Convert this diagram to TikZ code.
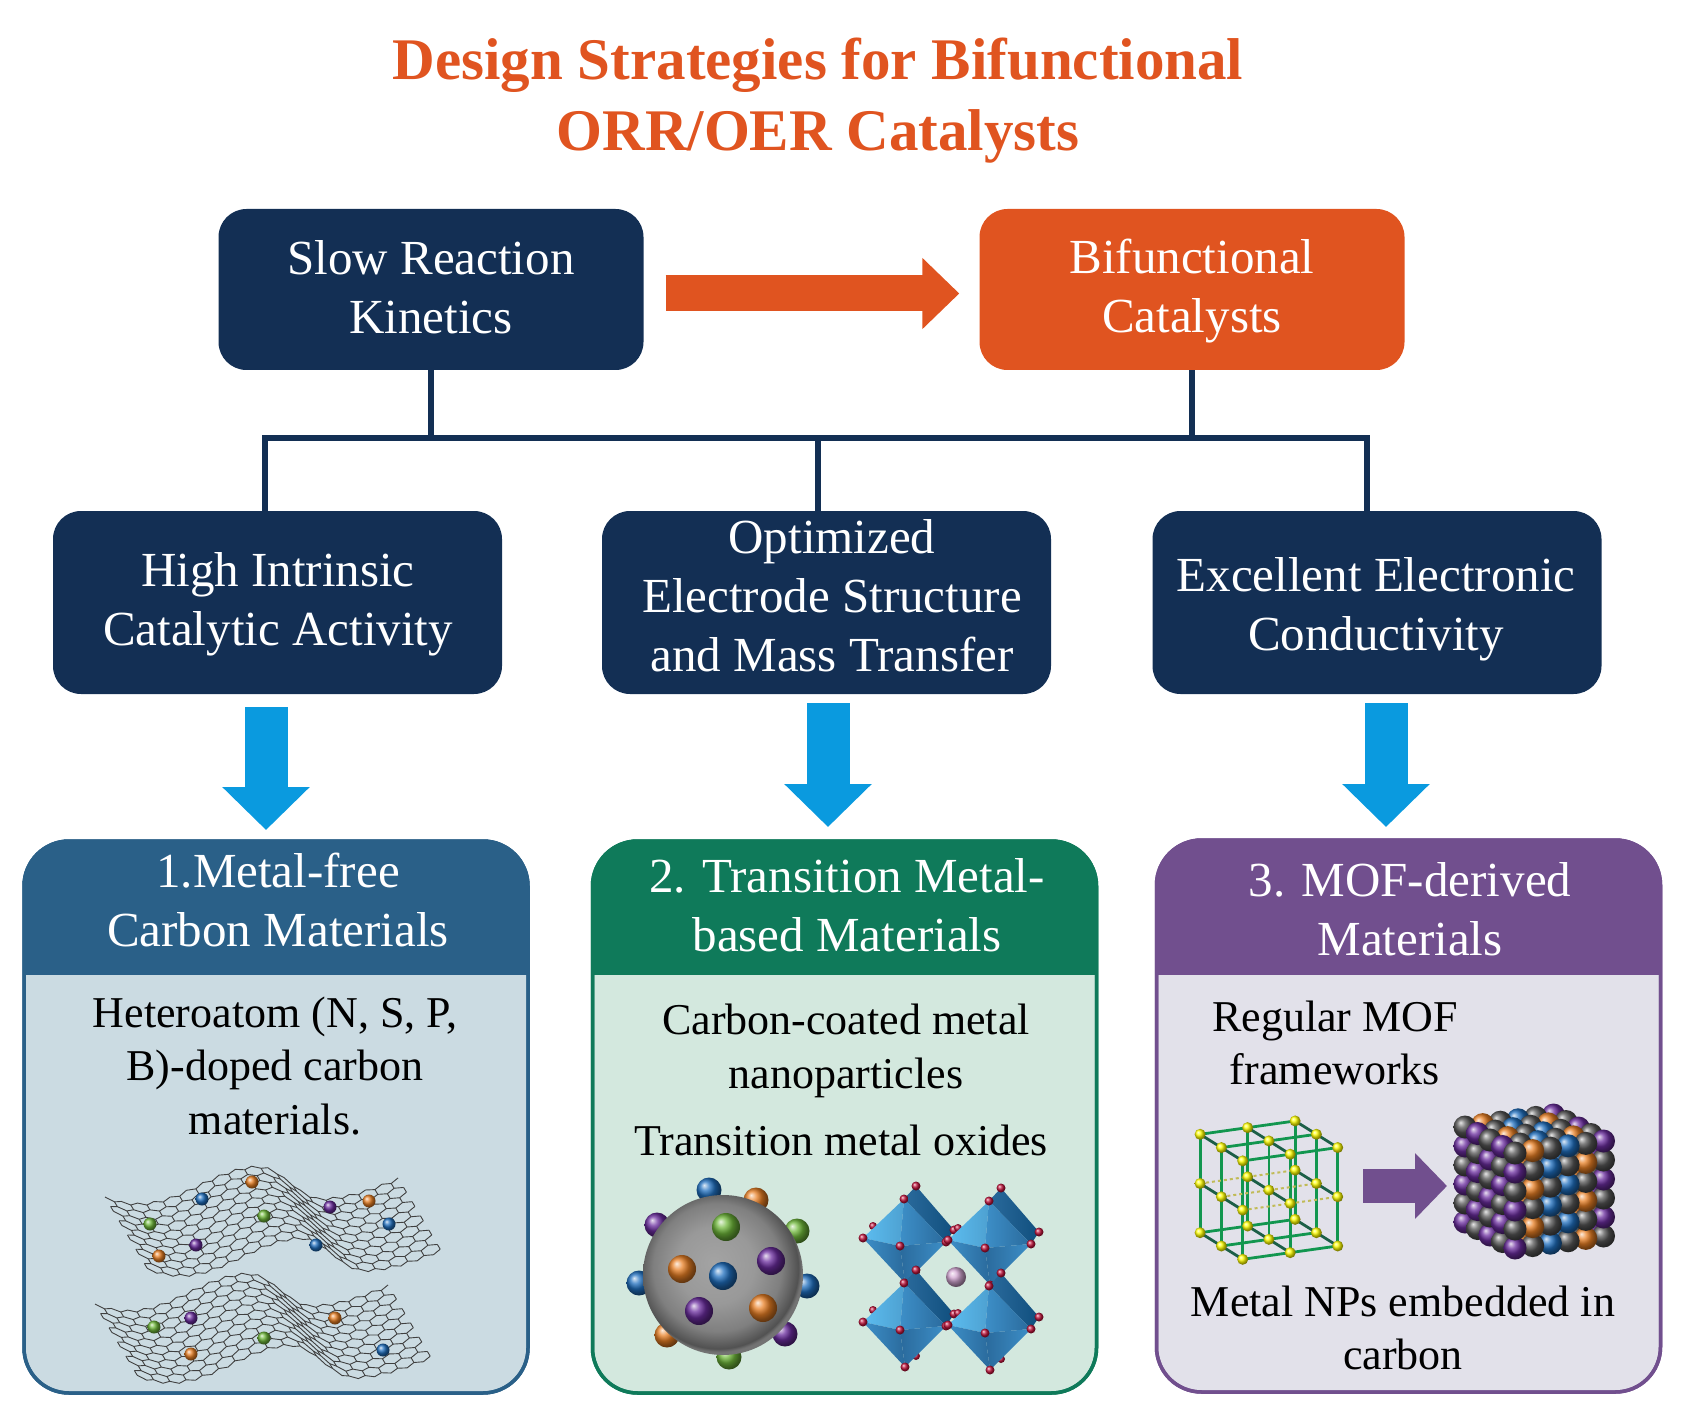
\documentclass[tikz,border=0pt]{standalone}
\usepackage{fontspec}
\setmainfont{Liberation Serif}
\usetikzlibrary{arrows.meta}
\definecolor{navy}{HTML}{132F54}
\definecolor{flame}{HTML}{E05420}
\definecolor{sky}{HTML}{0A9ADF}
\definecolor{headblue}{HTML}{2A6088}
\definecolor{bodyblue}{HTML}{CBDBE2}
\definecolor{headgreen}{HTML}{0F7A5A}
\definecolor{bodygreen}{HTML}{D3E8DE}
\definecolor{headpurple}{HTML}{714F8E}
\definecolor{bodypurple}{HTML}{E2E1EA}
\definecolor{dotorange}{HTML}{E87F24}
\definecolor{dotblue}{HTML}{1F6FBF}
\definecolor{dotgreen}{HTML}{6FB83A}
\definecolor{dotpurple}{HTML}{6A2C9E}
\definecolor{dotgray}{HTML}{565656}
\definecolor{oxred}{HTML}{C0143C}
\definecolor{facelight}{HTML}{5CBDF0}
\definecolor{facemid}{HTML}{3D8FC8}
\definecolor{facedark}{HTML}{2A6A9C}
\definecolor{cagegreen}{HTML}{12964F}
\definecolor{cageteal}{HTML}{1C5F47}
\pgfdeclareradialshading{coresphere}{\pgfpoint{-3bp}{4bp}}{%
  color(0bp)=(black!36); color(12bp)=(black!40); color(20bp)=(black!50);
  color(25bp)=(black!68); color(26bp)=(black!55); color(50bp)=(black!55)}
% one ball of the drawings
\newcommand\ballat[4][6.5pt]{\shade[ball color=#4] (#2,#3) circle (#1);}
% wavy honeycomb sheet
\newcommand\hexsheet[2]{%
  \begin{scope}[shift={(#1,#2)}]
    \foreach \j in {0,...,10}
      \draw[hexline] plot[samples at={0,...,36},variable=\i] ({sx(\i,\j)},{sy(\i,\j)});
    \foreach \j in {0,...,9}
      \foreach \i in {0,...,36}{
        \ifodd\numexpr\i+\j\relax
          \draw[hexline] ({sx(\i,\j)},{sy(\i,\j)}) -- ({sx(\i,\j+1)},{sy(\i,\j+1)});
        \fi}
  \end{scope}}
% one octahedron with its back edge
\newcommand\octa[2]{%
  \begin{scope}[shift={(#1,#2)}]
    \coordinate (vt) at (0,0);
    \coordinate (vl) at (-41,39);
    \coordinate (vr) at (42,43);
    \coordinate (vf) at (-4,47);
    \coordinate (vb) at (1,84);
    \coordinate (bt) at (12,-13);
    \coordinate (br) at (50,31);
    \ballat[4pt]{12}{73}{oxred}
    \ballat[4pt]{-31}{27}{oxred}
    \shade[left color=facedark,right color=navy!70!sky] (vt) -- (bt) -- (br) -- (vr) -- cycle;
    \shade[left color=facelight,right color=facelight!80!navy] (vt) -- (vl) -- (vf) -- cycle;
    \shade[left color=facemid,right color=facedark] (vt) -- (vf) -- (vr) -- cycle;
    \shade[left color=facemid,right color=facedark] (vl) -- (vf) -- (vb) -- cycle;
    \shade[left color=facedark,right color=facemid] (vf) -- (vr) -- (vb) -- cycle;
    \foreach \p/\q in {0/0,-41/39,42/43,-4/47,1/84,12/-13,50/31}{
      \ballat[4.5pt]{\p}{\q}{oxred}}
  \end{scope}}

\begin{document}
\begin{tikzpicture}
[x=1pt,y=-1pt,
  boxtext/.style={text=white,align=center,font=\fontsize{49}{59}\selectfont},
  bodytext/.style={text=black,align=center,font=\fontsize{44}{53.5}\selectfont},
  title/.style={text=flame,align=center,font=\fontsize{59}{71}\selectfont\bfseries},
  navybox/.style={fill=navy,rounded corners=28pt,minimum width=449pt,minimum height=183pt},
  panel/.style={line width=3.5pt,outer sep=0pt,rounded corners=45pt,minimum width=504pt,minimum height=552pt},
  busline/.style={draw=navy,line width=5.5pt},
  fatorange/.style={draw=flame,line width=36pt,-{Triangle[length=37pt,width=69pt]}},
  fatblue/.style={draw=sky,line width=43pt,-{Triangle[length=43pt,width=85pt]}},
  fatpurple/.style={draw=headpurple,line width=34pt,-{Triangle[length=32pt,width=64pt]}},
  hexline/.style={draw=black!75,line width=0.9pt},
  latfront/.style={draw=cagegreen,line width=2.8pt},
  latside/.style={draw=cageteal,line width=2.8pt},
  latmid/.style={draw=olive!55!white,line width=2pt,dashed},
  declare function={
    wavey(\u)=17*cos(ifthenelse(\u<0.52,180*(\u-0.12)/0.4,
      ifthenelse(\u<0.74,180+180*(\u-0.52)/0.22,360+180*(\u-0.74)/0.5)));
    sv(\p,\q)=(1.5*\q+0.5*mod(\p+\q,2))/16;
    sx(\p,\q)=293*\p/36+45*sv(\p,\q);
    sy(\p,\q)=-8*\p/36+76*sv(\p,\q)+wavey(\p/36);}]
\useasboundingbox (0,0) rectangle (1690,1420);
\node[title] (head) at (818,101) {Design Strategies for Bifunctional\\ORR/OER Catalysts};

\node[navybox,minimum width=425pt,minimum height=161pt] (slow) at (431,289.5) {};
\node[navybox,fill=flame,minimum width=425pt,minimum height=161pt] (bifunc) at (1192,289.5) {};
\node[navybox] (high) at (277.5,602.5) {};
\node[navybox] (optim) at (826.5,602.5) {};
\node[navybox] (elec) at (1377,602.5) {};
\node[boxtext] at (431,287) {Slow Reaction\\Kinetics};
\node[boxtext] at (1192,291) {Bifunctional\\Catalysts};
\node[boxtext] at (278,604) {High Intrinsic\\Catalytic Activity};
\node[boxtext] at (832,596) {Optimized\\Electrode Structure\\and Mass Transfer};
\node[boxtext] at (1376,609) {Excellent Electronic\\Conductivity};

\coordinate (bus) at (818,438);
\draw[busline] (slow.south) -- (slow.south |- bus);
\draw[busline] (bifunc.south) -- (bifunc.south |- bus);
\draw[busline] ([xshift=-12.5pt]high.north) |- (bus) -| ([xshift=-10pt]elec.north);
\draw[busline] (bus) -- ([xshift=-8.5pt]optim.north);
\draw[fatorange,shorten <=22pt,shorten >=20pt] ([yshift=-4pt]slow.east) -- ([yshift=-4pt]bifunc.west);

% three material panels
\foreach \name/\cx/\cy/\hc/\bc/\hy in {matfree/276/1117/headblue/bodyblue/975,
    trans/844.5/1117/headgreen/bodygreen/975,mof/1408.5/1116/headpurple/bodypurple/975}{
  \node[panel,draw=\hc,fill=\bc] (\name) at (\cx,\cy) {};
  \begin{scope}
    \clip[rounded corners=45pt] (\name.south west) rectangle (\name.north east);
    \fill[\hc] (\name.north west) rectangle (\name.east |- 0,\hy);
  \end{scope}
  \draw[draw=\hc,line width=3.5pt,rounded corners=45pt] (\name.south west) rectangle (\name.north east);
}
\draw[fatblue,shorten <=13pt,shorten >=11pt] ([xshift=-11.5pt]high.south) -- ([xshift=-10pt]matfree.north);
\draw[fatblue,shorten <=9pt,shorten >=14pt] ([xshift=1.5pt]optim.south) -- ([xshift=-16.5pt]trans.north);
\draw[fatblue,shorten <=9pt,shorten >=13pt] ([xshift=9pt]elec.south) -- ([xshift=-22.5pt]mof.north);

\node[boxtext] (mfhead) at (278,900) {1.Metal-free\\Carbon Materials};
\node[boxtext] (tmhead) at (847,905) {2. Transition Metal-\\based Materials};
\node[boxtext] (mofhead) at (1410,909) {3. MOF-derived\\Materials};

\node[bodytext] (mftext) at (275,1066) {Heteroatom (N, S, P,\\B)-doped carbon\\materials.};
\node[bodytext] (tmtext) at (846,1051) {Carbon-coated metal\\nanoparticles};
\node[bodytext] (tmoxide) at (841,1140) {Transition metal oxides};
\node[bodytext] (moftext) at (1335,1043) {Regular MOF\\frameworks};
\node[bodytext] (npstext) at (1403,1328) {Metal NPs embedded in\\carbon};

% doped carbon sheets
\hexsheet{105}{1187}
\hexsheet{95}{1294}
\foreach \p/\q/\c in {252/1182/dotorange,202/1199/dotblue,150/1224/dotgreen,264/1216/dotgreen,
    330/1207/dotpurple,369/1201/dotorange,389/1224/dotblue,196/1245/dotpurple,159/1256/dotorange,
    316/1245/dotblue,154/1327/dotgreen,191/1318/dotpurple,335/1318/dotorange,264/1338/dotgreen,
    191/1354/dotorange,383/1350/dotblue}{
  \ballat{\p}{\q}{\c}}

% coated nanoparticle
\foreach \p/\q/\c in {709/1190/dotblue,756/1200/dotorange,657/1225/dotpurple,797/1231/dotgreen,
    639/1283/dotblue,807/1286/dotblue,667/1335/dotorange,785/1334/dotpurple,729/1357/dotgreen}{
  \ballat[12.5pt]{\p}{\q}{\c}}
\shade[shading=coresphere] (723,1275) circle (80pt);
\foreach \p/\q/\c in {726/1227/dotgreen,682/1269/dotorange,723/1276/dotblue,771/1261/dotpurple,
    699/1311/dotpurple,763/1308/dotorange}{
  \ballat[14pt]{\p}{\q}{\c}}

% oxide octahedra
\octa{904}{1199}
\octa{989}{1201}
\octa{904}{1283}
\octa{989}{1286}
\ballat[10pt]{956}{1277}{violet!35!white}

% cage lattice
\begin{scope}[shift={(1242.7,1259.3)},x={(47.5pt,6.67pt)},y={(-21.3pt,13.3pt)},z={(0pt,49.2pt)}]
  \foreach \i in {0,1,2}
    \foreach \j in {0,1,2}{
      \draw[latfront] (\i,\j,0) -- (\i,\j,2);
    }
  \foreach \k in {0,2}
    \foreach \s in {0,1,2}{
      \draw[latfront] (0,\s,\k) -- (2,\s,\k);
      \draw[latside] (\s,0,\k) -- (\s,2,\k);
    }
  \foreach \s in {0,1,2}{
    \draw[latmid] (0,\s,1) -- (2,\s,1);
    \draw[latside] (\s,0,1) -- (\s,2,1);
  }
  \foreach \i in {0,1,2}
    \foreach \j in {0,1,2}
      \foreach \k in {0,1,2}
        \shade[ball color=yellow] (\i,\j,\k) circle (5.5pt);
\end{scope}
\coordinate (latout) at (1363,1186);
\coordinate (cubein) at (1447,1186);
\draw[fatpurple] (latout) -- (cubein);

% ball cluster
\begin{scope}[shift={(1515,1248)},x={(17.7pt,2.4pt)},y={(-12.5pt,6.5pt)},z={(0pt,19pt)}]
  \foreach \j in {4,...,0}
    \foreach \i/\c in {5/dotpurple,4/dotorange,3/dotblue,2/dotblue,1/dotorange,0/dotpurple}
      \foreach \k in {0,...,5}{
        \ifodd\numexpr\i+\j+\k\relax\def\tint{dotgray}\else\def\tint{\c}\fi
        \shade[ball color=\tint] (\i,\j,\k) circle (11.5pt);
      }
\end{scope}
\end{tikzpicture}
\end{document}
